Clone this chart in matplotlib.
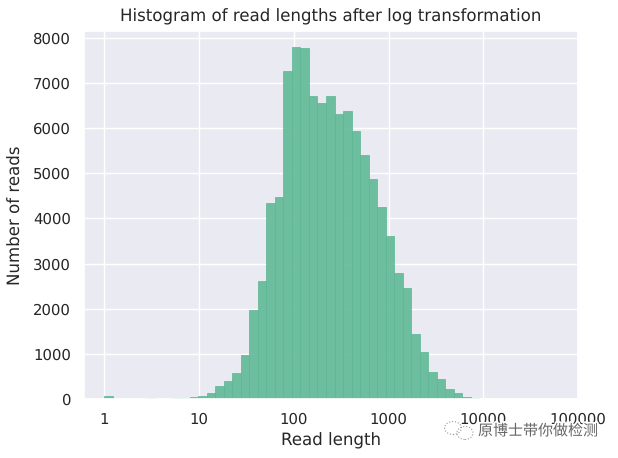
import numpy as np
import matplotlib
matplotlib.use('Agg')
import matplotlib.pyplot as plt
import matplotlib.patheffects as pe
from matplotlib.patches import Ellipse
import seaborn as sns

# Histogram of read lengths, bins are 0.09 wide in log10 space
bin_width = 0.09
counts = [60, 0, 0, 0, 0, 20, 0, 0, 20, 20,
          35, 60, 130, 285, 400, 570, 970, 1970, 2610, 4350,
          4480, 7260, 7800, 7770, 6720, 6570, 6720, 6320, 6390, 5950,
          5410, 4875, 4260, 3610, 2800, 2450, 1440, 1040, 590, 440,
          215, 130, 40, 15]
xtick_pos = [0, 1, 2, 3, 4, 5]
xtick_labels = ['1', '10', '100', '1000', '10000', '100000']
ytick_pos = [0, 1000, 2000, 3000, 4000, 5000, 6000, 7000, 8000]

sns.set_theme(style='darkgrid')
plt.rcParams['font.family'] = ['DejaVu Sans']
plt.rcParams['text.hinting'] = 'no_hinting'

fig = plt.figure(figsize=(6.18, 4.58), dpi=100)
ax = fig.add_axes([84 / 618, 59 / 458, 494 / 618, 368 / 458])

left_edges = np.arange(len(counts)) * bin_width
ax.bar(left_edges, counts, width=bin_width, align='edge', color='#5fb896',
       alpha=0.9, edgecolor='#5fb896', linewidth=0.6)

ax.set_xlim(-0.214, 4.986)
ax.set_ylim(0, 8155)
ax.set_xticks(xtick_pos)
ax.set_xticklabels(xtick_labels)
ax.set_yticks(ytick_pos)
ax.tick_params(labelsize=10.7)
ax.tick_params(axis='x', pad=4)
ax.set_title('Histogram of read lengths after log transformation', fontsize=12, pad=7)
ax.set_xlabel('Read length', fontsize=12, labelpad=4)
ax.set_ylabel('Number of reads', fontsize=12, labelpad=6)

# watermark in the bottom corner
fig.text(478 / 618, 1 - 431 / 458, '原博士带你做检测', fontsize=10.8,
         family=['Noto Sans CJK SC', 'DejaVu Sans'], color='#666666',
         va='center', ha='left',
         path_effects=[pe.withStroke(linewidth=2.5, foreground='white')])
for xc, yc, w, h in [(453, 428, 17, 13), (465, 433, 16, 13)]:
    fig.add_artist(Ellipse((xc / 618, 1 - yc / 458), w / 618, h / 458,
                           transform=fig.transFigure, fill=False,
                           edgecolor='#999999', linewidth=0.8, linestyle=':'))

fig.savefig('out.png', dpi=100)
